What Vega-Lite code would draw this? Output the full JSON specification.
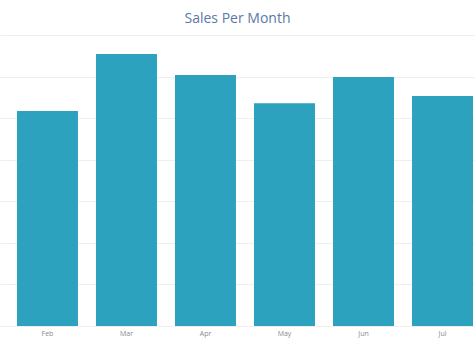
{
  "$schema": "https://vega.github.io/schema/vega-lite/v6.json",
  "width": 475,
  "height": 291,
  "autosize": {"type": "none"},
  "padding": {"left": 0, "right": 0, "top": 35, "bottom": 30},
  "background": "white",
  "title": {
    "text": "Sales Per Month",
    "font": "Open Sans",
    "fontSize": 14,
    "fontWeight": "normal",
    "color": "#5b78a8",
    "anchor": "middle",
    "offset": 9
  },
  "data": {
    "values": [
      {"month": "Feb", "sales": 51.7},
      {"month": "Mar", "sales": 65.4},
      {"month": "Apr", "sales": 60.4},
      {"month": "May", "sales": 53.6},
      {"month": "Jun", "sales": 59.9},
      {"month": "Jul", "sales": 55.3}
    ]
  },
  "mark": {"type": "bar", "color": "#2ca2bf"},
  "encoding": {
    "x": {
      "field": "month",
      "type": "nominal",
      "sort": null,
      "scale": {"paddingInner": 0.228, "paddingOuter": 0.12, "align": 0.895},
      "axis": {
        "title": null,
        "labelAngle": 0,
        "labelFont": "Open Sans",
        "labelFontSize": 7,
        "labelColor": "#8a8a8a",
        "labelPadding": 3,
        "ticks": false,
        "domain": false
      }
    },
    "y": {
      "field": "sales",
      "type": "quantitative",
      "scale": {"domain": [0, 70], "nice": false},
      "axis": {
        "title": null,
        "labels": false,
        "ticks": false,
        "domain": false,
        "grid": true,
        "gridColor": "#efefef",
        "values": [0, 10, 20, 30, 40, 50, 60, 70]
      }
    }
  },
  "config": {"view": {"stroke": null}}
}
